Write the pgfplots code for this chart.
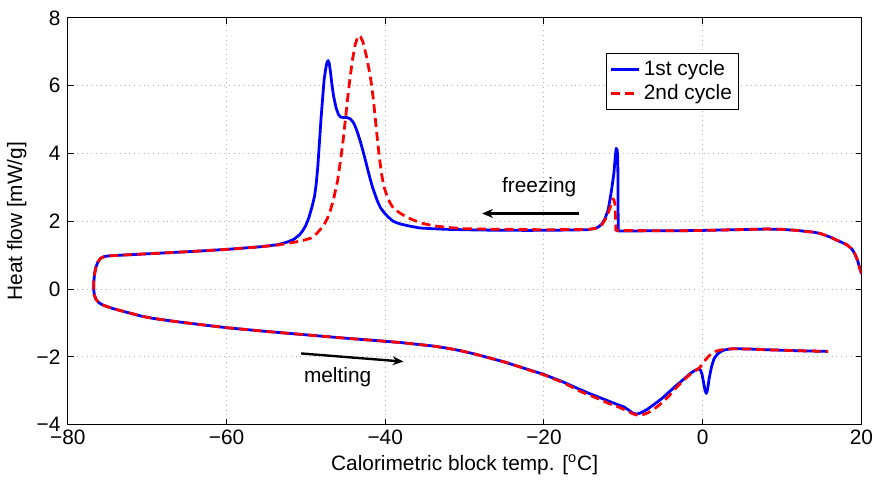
\documentclass[border=0pt]{standalone}
\usepackage{fontspec}
\setmainfont{Liberation Sans}
\usepackage{pgfplots}
\pgfplotsset{compat=1.18}
\usetikzlibrary{arrows.meta}

\definecolor{mblue}{RGB}{0,0,255}
\definecolor{mred}{RGB}{255,0,0}

\begin{document}
\fontsize{10.5bp}{12.6bp}\selectfont
\begin{tikzpicture}
\begin{axis}[
  scale only axis, width=400bp, height=205bp,
  xmin=-80, xmax=20, ymin=-4, ymax=8,
  xtick={-80,-60,-40,-20,0,20},
  xticklabels={−80,−60,−40,−20,0,20},
  ytick={-4,-2,0,2,4,6,8},
  yticklabels={−4,−2,0,2,4,6,8},
  tick align=inside, major tick length=3bp,
  tick style={black, line width=0.5bp},
  axis line style={black, line width=0.5bp},
  grid=major,
  major grid style={gray!60, dotted, line width=0.5bp},
  xlabel={Calorimetric block temp. [$^{\mathrm{o}}$C]},
  ylabel={Heat flow [mW/g]},
  xlabel style={yshift=2bp},
  ylabel style={yshift=-2bp},
  xticklabel style={yshift=1bp},
  legend style={at={(0.678,0.914)}, anchor=north west, draw=black,
    line width=0.5bp, fill=white, inner sep=1.5bp, row sep=-1bp,
    font=\fontsize{10.5bp}{12.6bp}\selectfont},
  legend cell align=left,
  legend image code/.code={\draw[#1] (0bp,0bp) -- (14bp,0bp);},
  line join=round,
]
% 1st cycle: freezing (right to left), then melting (left to right)
\addplot[mblue, line width=1.4bp] coordinates {
(20,0.45) (19.8,0.6) (19.5,0.85) (19.2,1.02) (18.8,1.18) (18.2,1.3)
(17.5,1.38) (16.9,1.44) (16.2,1.52) (15.5,1.58) (14.8,1.64) (13.9,1.68)
(13,1.70) (11.9,1.73) (10,1.76) (8,1.77) (6,1.76) (4,1.75)
(0,1.73) (-3,1.72) (-6,1.72) (-10.65,1.71)
(-10.7,3.9) (-10.8,4.12) (-10.9,4.15) (-11.0,3.95) (-11.2,3.4)
(-11.5,2.9) (-11.9,2.35) (-12.3,2.08) (-12.7,1.92) (-13.1,1.84)
(-13.5,1.79) (-14.5,1.75) (-17,1.74)
(-22,1.73) (-28,1.74) (-32,1.76) (-34,1.78) (-35.6,1.80) (-37,1.86)
(-38.1,1.92) (-38.6,1.96) (-39,2.0) (-39.4,2.08) (-39.7,2.14)
(-40,2.22) (-40.3,2.30) (-40.6,2.40) (-41,2.6) (-41.3,2.8) (-41.6,3.0)
(-41.9,3.25) (-42.2,3.52) (-42.5,3.8) (-42.8,4.07) (-43.1,4.32)
(-43.4,4.55) (-43.7,4.75) (-44,4.91) (-44.4,5.02) (-44.8,5.06)
(-45.2,5.06) (-45.6,5.07) (-45.9,5.15) (-46.2,5.35) (-46.5,5.68)
(-46.7,6.0) (-46.9,6.4) (-47.05,6.65) (-47.2,6.74) (-47.35,6.68)
(-47.5,6.5) (-47.7,6.18) (-47.9,5.6) (-48.1,5.0) (-48.3,4.3)
(-48.5,3.6) (-48.7,3.1) (-48.9,2.75) (-49.2,2.45) (-49.6,2.12)
(-50.0,1.88) (-50.4,1.72) (-50.8,1.6) (-51.5,1.47) (-52.3,1.39)
(-53.5,1.31) (-55.6,1.25) (-60,1.17) (-65,1.10) (-70,1.04) (-74,0.99)
(-75.0,0.975) (-75.5,0.95) (-75.9,0.9) (-76.2,0.8) (-76.45,0.65)
(-76.62,0.45) (-76.72,0.22) (-76.74,0.0) (-76.65,-0.18) (-76.45,-0.3)
(-76.1,-0.4) (-75.6,-0.47) (-75,-0.52) (-74.4,-0.57) (-73.3,-0.64)
(-72,-0.72) (-70.7,-0.8) (-69.4,-0.86) (-67,-0.94) (-65,-1.0)
(-62.5,-1.07) (-60,-1.14) (-55,-1.25)
(-50,-1.35) (-45,-1.45) (-40.6,-1.53) (-38,-1.58) (-36,-1.63)
(-34,-1.68) (-32.3,-1.74) (-30.5,-1.82) (-29,-1.9) (-26.9,-2.03)
(-25,-2.15) (-23,-2.3) (-21.5,-2.41) (-20,-2.52) (-17.5,-2.75)
(-15.6,-2.95) (-14.3,-3.08) (-13,-3.2) (-11.5,-3.34) (-10.6,-3.42)
(-9.9,-3.48) (-9.4,-3.56) (-8.8,-3.66) (-8.3,-3.69) (-7.8,-3.65)
(-7,-3.55) (-6,-3.38) (-5.2,-3.24) (-4.3,-3.05) (-3.5,-2.88)
(-2.7,-2.72) (-2,-2.58) (-1.5,-2.48) (-1,-2.40) (-0.6,-2.36)
(-0.3,-2.38) (-0.1,-2.5) (0.1,-2.75) (0.3,-3.0) (0.45,-3.08)
(0.6,-2.98) (0.8,-2.65) (1.1,-2.3) (1.4,-2.07) (1.8,-1.93)
(2.3,-1.84) (2.7,-1.80) (3.3,-1.77) (4,-1.76) (6,-1.77) (8,-1.79)
(12,-1.82) (15.8,-1.84)
};
\addlegendentry{1st cycle}
% 2nd cycle
\addplot[mred, line width=1.4bp, dash pattern=on 4.5bp off 2.5bp] coordinates {
(20,0.45) (19.8,0.6) (19.5,0.85) (19.2,1.02) (18.8,1.18) (18.2,1.3)
(17.5,1.38) (16.9,1.44) (16.2,1.52) (15.5,1.58) (14.8,1.64) (13.9,1.68)
(13,1.70) (11.9,1.73) (10,1.76) (8,1.77) (6,1.76) (4,1.75)
(0,1.73) (-3,1.72) (-6,1.72) (-10.95,1.73)
(-11.05,2.5) (-11.2,2.64) (-11.3,2.66) (-11.45,2.56) (-11.6,2.45)
(-11.9,2.25) (-12.3,2.05) (-12.7,1.9) (-13.1,1.83) (-13.5,1.79)
(-14.5,1.76) (-20,1.75) (-28.1,1.77)
(-30,1.78) (-32.3,1.82) (-34,1.87) (-35.2,1.93) (-36.3,2.02)
(-37.3,2.12) (-38.2,2.25) (-38.6,2.32) (-39,2.40) (-39.3,2.5)
(-39.6,2.65) (-39.9,2.83) (-40.2,3.05) (-40.5,3.45) (-40.8,4.0)
(-41.0,4.45) (-41.2,4.9) (-41.5,5.6) (-41.8,6.15) (-42.1,6.55)
(-42.4,6.9) (-42.8,7.28) (-43.1,7.44) (-43.3,7.48) (-43.5,7.42)
(-43.8,7.2) (-44.1,6.8) (-44.4,6.3) (-44.7,5.7) (-45,5.05) (-45.3,4.4)
(-45.6,3.85) (-46,3.2) (-46.5,2.66) (-46.9,2.33) (-47.3,2.08)
(-47.7,1.9) (-48.2,1.75) (-48.8,1.6) (-49.4,1.5) (-50.4,1.43)
(-51.5,1.38) (-53.5,1.30) (-55.6,1.25)
(-60,1.17) (-65,1.10) (-70,1.04) (-74,0.99)
(-75.0,0.975) (-75.5,0.95) (-75.9,0.9) (-76.2,0.8) (-76.45,0.65)
(-76.62,0.45) (-76.72,0.22) (-76.74,0.0) (-76.65,-0.18) (-76.45,-0.3)
(-76.1,-0.4) (-75.6,-0.47) (-75,-0.52) (-74.4,-0.57) (-73.3,-0.64)
(-72,-0.72) (-70.7,-0.8) (-69.4,-0.86) (-67,-0.94) (-65,-1.0)
(-62.5,-1.07) (-60,-1.14) (-55,-1.25)
(-50,-1.35) (-45,-1.45) (-40.6,-1.53) (-38,-1.58) (-36,-1.63)
(-34,-1.68) (-32.3,-1.74) (-30.5,-1.82) (-29,-1.9) (-26.9,-2.03)
(-25,-2.15) (-23,-2.3) (-21.5,-2.42) (-20,-2.53) (-17.5,-2.77)
(-15.6,-3.0) (-14.3,-3.13) (-13,-3.25) (-11.8,-3.38) (-10.6,-3.48)
(-9.5,-3.6) (-8.7,-3.69) (-8.1,-3.73) (-7.6,-3.71) (-7.0,-3.66)
(-6.5,-3.6) (-5.8,-3.48) (-5,-3.33) (-4.2,-3.14) (-3.5,-2.95)
(-2.7,-2.76) (-2,-2.6) (-1.5,-2.5) (-1,-2.42) (-0.4,-2.32) (0,-2.2)
(0.4,-2.07) (0.8,-1.97) (1.2,-1.89) (1.7,-1.83) (2.2,-1.8) (2.7,-1.78)
(4,-1.76) (6,-1.77) (8,-1.79) (12,-1.82) (15.8,-1.84)
};
\addlegendentry{2nd cycle}
% annotations
\draw[-{Stealth[length=5.5bp,width=4.5bp]}, line width=1.2bp] (axis cs:-15.6,2.23) -- (axis cs:-27.8,2.23);
\node at (axis cs:-20.6,3.0) {freezing};
\draw[-{Stealth[length=5.5bp,width=4.5bp]}, line width=1.2bp] (axis cs:-50.6,-1.9) -- (axis cs:-37.7,-2.14);
\node at (axis cs:-46,-2.6) {melting};
\end{axis}
\path ([shift={(-32.5bp,-31bp)}]current axis.south west) rectangle ([shift={(7.5bp,9bp)}]current axis.north east);
\end{tikzpicture}
\end{document}
